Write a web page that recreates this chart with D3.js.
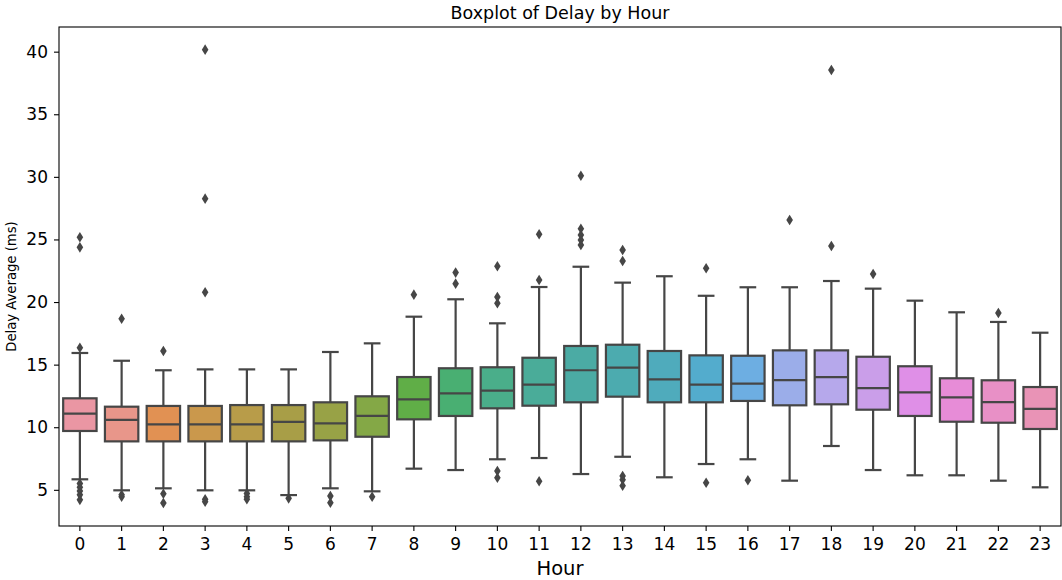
<!DOCTYPE html>
<html><head><meta charset="utf-8">
<script src="https://cdn.jsdelivr.net/npm/d3@7"></script>
<style>body{margin:0;background:#fff;} svg{display:block;font-family:"DejaVu Sans",sans-serif;}</style>
</head><body><svg id="chart" width="1062" height="580"></svg>
<script>
// ---- data ----
const hours = [0,1,2,3,4,5,6,7,8,9,10,11,12,13,14,15,16,17,18,19,20,21,22,23];
const q1 = [9.70,8.87,8.87,8.87,8.87,8.87,8.95,9.24,10.63,10.90,11.51,11.72,11.99,12.44,11.99,11.99,12.10,11.75,11.83,11.40,10.90,10.44,10.36,9.86];
const medians = [11.08,10.58,10.23,10.23,10.23,10.42,10.31,10.90,12.23,12.71,12.92,13.40,14.55,14.76,13.83,13.40,13.48,13.77,14.01,13.13,12.79,12.39,12.01,11.46];
const q3 = [12.31,11.64,11.70,11.70,11.77,11.77,11.99,12.47,14.01,14.71,14.79,15.55,16.49,16.59,16.09,15.74,15.71,16.14,16.14,15.63,14.87,13.91,13.75,13.21];
const whiskerLow = [5.84,4.96,5.12,4.96,4.96,4.58,5.12,4.88,6.69,6.58,7.44,7.54,6.26,7.64,6.00,7.06,7.44,5.73,8.50,6.58,6.16,6.16,5.73,5.20];
const whiskerHigh = [15.93,15.31,14.55,14.62,14.62,14.62,16.01,16.70,18.83,20.22,18.30,21.20,22.82,21.55,22.06,20.50,21.18,21.18,21.68,21.07,20.11,19.18,18.41,17.55];
const outliers = [
  [25.17,24.37,16.35,5.5,5.2,4.9,4.6,4.2],
  [18.67,4.6,4.45],
  [16.09,4.69,3.95],
  [40.16,28.26,20.78,4.24,4.05],
  [4.7,4.45,4.25],
  [4.32],
  [4.5,3.97],
  [4.45],
  [20.59],
  [22.35,21.47],
  [22.86,20.4,19.9,6.5,5.97],
  [25.41,21.76,5.68],
  [30.09,25.86,25.36,24.96,24.56],
  [24.16,23.28,6.1,5.8,5.33],
  [],
  [22.7,5.57],
  [5.76],
  [26.55],
  [38.54,24.48],
  [22.24],
  [],
  [],
  [19.12],
  []
];
const yTicks = [5,10,15,20,25,30,35,40];
const titleText = "Boxplot of Delay by Hour";
const xLabelText = "Hour";
const yLabelText = "Delay Average (ms)";

// ---- husl palette (seaborn style) ----
const M = [[3.2406,-1.5372,-0.4986],[-0.9689,1.8758,0.0415],[0.0557,-0.2040,1.0570]];
function maxChroma(L,H){
  const hr=H*Math.PI/180, sinH=Math.sin(hr), cosH=Math.cos(hr);
  const sub1=Math.pow(L+16,3)/1560896; const sub2=sub1>0.008856?sub1:L/903.3;
  let res=Infinity;
  for(const [m1,m2,m3] of M){
    const top=(0.99915*m1+1.05122*m2+1.14460*m3)*sub2;
    const rb=0.86330*m3-0.17266*m2, lb=0.12949*m3-0.38848*m1;
    const bottom=(rb*sinH+lb*cosH)*sub2;
    for(const t of [0,1]){const C=L*(top-1.05122*t)/(bottom+0.17266*sinH*t); if(C>0&&C<res) res=C;}
  }
  return res;
}
function huslToRgb(h,s,l){
  const C=maxChroma(l,h)/100*s; const hr=h*Math.PI/180;
  const U=Math.cos(hr)*C, V=Math.sin(hr)*C;
  const refU=0.19784, refV=0.46834;
  const t=(l+16)/116; const Y=t*t*t>0.008856?t*t*t:(116*t-16)/903.3;
  const varU=U/(13*l)+refU, varV=V/(13*l)+refV;
  const X=-(9*Y*varU)/((varU-4)*varV-varU*varV);
  const Z=(9*Y-15*varV*Y-varV*X)/(3*varV);
  return M.map(r=>{const c=r[0]*X+r[1]*Y+r[2]*Z; const v=c<=0.0031308?12.92*c:1.055*Math.pow(c,1/2.4)-0.055; return Math.min(1,Math.max(0,v));});
}
const n = hours.length;
const colors = hours.map((d,i)=>{
  const h = ((i/n + 0.01) % 1) * 359;
  const [r,g,b] = huslToRgb(h, 0.9*99, 0.7*99);
  const c = d3.hsl(d3.rgb(r*255,g*255,b*255));
  c.s *= 0.75;
  return c;
});
const lum = d3.min(colors, c=>c.l) * 0.6;
const gray = d3.rgb(lum*255,lum*255,lum*255).formatHex();

// ---- layout ----
const svg = d3.select("#chart");
const L=59, R=1061, T=27, B=526;
const x = d3.scaleBand().domain(hours.map(String)).range([L,R]).padding(0);
const y = d3.scaleLinear().domain([2.11,41.97]).range([B,T]);
const bw = x.bandwidth()*0.8;
const lw = 2.2;

const g = svg.append("g");
hours.forEach((h,i)=>{
  const cx = x(String(h)) + x.bandwidth()/2;
  const gg = g.append("g");
  gg.append("rect").attr("x",cx-bw/2).attr("y",y(q3[i])).attr("width",bw).attr("height",y(q1[i])-y(q3[i]))
    .attr("fill",colors[i].formatHex()).attr("stroke",gray).attr("stroke-width",lw);
  gg.append("line").attr("x1",cx).attr("x2",cx).attr("y1",y(q3[i])).attr("y2",y(whiskerHigh[i])).attr("stroke",gray).attr("stroke-width",lw);
  gg.append("line").attr("x1",cx).attr("x2",cx).attr("y1",y(q1[i])).attr("y2",y(whiskerLow[i])).attr("stroke",gray).attr("stroke-width",lw);
  [whiskerHigh[i],whiskerLow[i]].forEach(v=>{
    gg.append("line").attr("x1",cx-bw/4).attr("x2",cx+bw/4).attr("y1",y(v)).attr("y2",y(v)).attr("stroke",gray).attr("stroke-width",lw);
  });
  gg.append("line").attr("x1",cx-bw/2).attr("x2",cx+bw/2).attr("y1",y(medians[i])).attr("y2",y(medians[i])).attr("stroke",gray).attr("stroke-width",lw);
  gg.selectAll("path.fl").data(outliers[i]).join("path").attr("class","fl")
    .attr("d",v=>{const py=y(v); return `M${cx},${py-5.3}L${cx+3.3},${py}L${cx},${py+5.3}L${cx-3.3},${py}Z`;})
    .attr("fill",gray);
});

// ---- axes ----
const ax = svg.append("g").attr("transform",`translate(0,${B})`)
  .call(d3.axisBottom(x).tickSize(5).tickPadding(7).tickSizeOuter(0));
const ay = svg.append("g").attr("transform",`translate(${L},0)`)
  .call(d3.axisLeft(y).tickValues(yTicks).tickSize(5).tickPadding(6).tickSizeOuter(0));
[ax,ay].forEach(a=>{
  a.select(".domain").remove();
  a.selectAll("line").attr("stroke","#000").attr("stroke-width",1.1);
  a.selectAll("text").attr("font-size","17px").attr("fill","#000").attr("font-family","DejaVu Sans");
});
svg.append("rect").attr("x",L).attr("y",T).attr("width",R-L).attr("height",B-T)
  .attr("fill","none").attr("stroke","#000").attr("stroke-width",1.1);

svg.append("text").attr("x",(L+R)/2).attr("y",19).attr("text-anchor","middle").attr("font-size","17.5px").attr("fill","#000").text(titleText);
svg.append("text").attr("x",(L+R)/2).attr("y",575).attr("text-anchor","middle").attr("font-size","19.5px").attr("fill","#000").text(xLabelText);
svg.append("text").attr("transform",`translate(15.5,286.5) rotate(-90)`).attr("text-anchor","middle").attr("font-size","13.2px").attr("fill","#000").text(yLabelText);
</script></body></html>
